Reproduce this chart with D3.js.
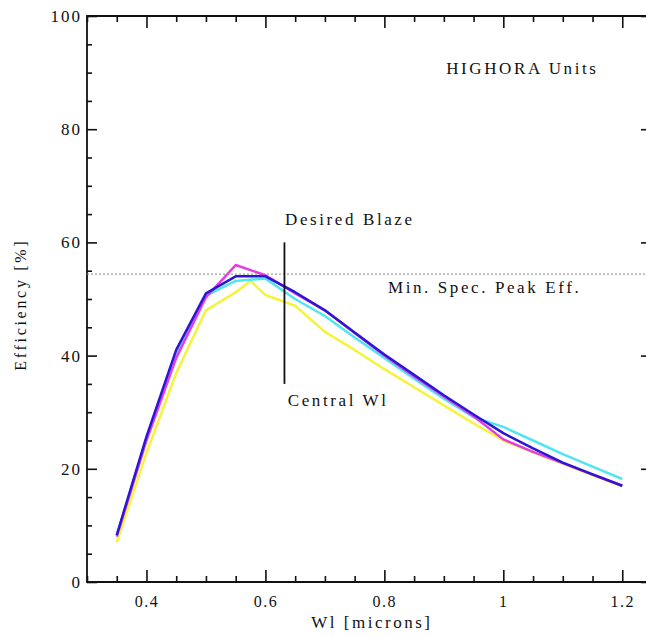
<!DOCTYPE html>
<html>
<head>
<meta charset="utf-8">
<script src="https://cdn.jsdelivr.net/npm/d3@7/dist/d3.min.js"></script>
<style>
  html, body { margin: 0; padding: 0; background: #fff; overflow: hidden; width: 646px; height: 637px; }
  svg { display: block; overflow: hidden; }
  text { font-family: "Liberation Serif", "DejaVu Serif", serif; fill: #111; }
</style>
</head>
<body>
<svg id="chart" width="646" height="637"></svg>
<script>
// ---- data ----
const wavelengths = [0.35, 0.4, 0.45, 0.5, 0.55, 0.6, 0.65, 0.7, 0.75, 0.8, 0.85, 0.9, 0.95, 1.0, 1.05, 1.1, 1.15, 1.2];
const yellowX = [0.35, 0.4, 0.45, 0.5, 0.55, 0.575, 0.6, 0.65, 0.7, 0.75, 0.8, 0.85, 0.9, 0.95, 1.0, 1.05, 1.1, 1.15, 1.2];
const yellowY = [7.0, 22.8, 36.9, 48.0, 51.2, 53.2, 50.7, 48.8, 44.2, 41.0, 37.6, 34.4, 31.2, 28.0, 25.0, 22.9, 20.9, 18.9, 16.9];
const cyanY    = [8.2, 25.4, 40.6, 50.6, 53.2, 53.6, 50.0, 47.0, 43.2, 39.6, 35.9, 32.4, 29.1, 27.4, 25.0, 22.6, 20.4, 18.2];
const magentaY = [8.0, 25.0, 39.6, 50.3, 56.0, 54.2, 51.0, 48.0, 44.0, 40.0, 36.3, 32.8, 29.3, 25.2, 23.0, 21.0, 19.0, 17.0];
const blueY    = [8.3, 25.7, 41.0, 51.0, 54.0, 54.0, 51.2, 48.0, 44.1, 40.2, 36.6, 33.0, 29.6, 26.3, 23.6, 21.1, 19.0, 17.0];
const seriesNames  = ["yellow", "cyan", "magenta", "blue"];
const seriesColors = ["#f4f43a", "#4fe6f2", "#e23ee2", "#2c16d4"];

const xMajorTicks = [0.4, 0.6, 0.8, 1.0, 1.2];
const xTickLabels = ["0.4", "0.6", "0.8", "1", "1.2"];
const xMinorTicks = [0.3, 0.35, 0.45, 0.5, 0.55, 0.65, 0.7, 0.75, 0.85, 0.9, 0.95, 1.05, 1.1, 1.15];
const yMajorTicks = [0, 20, 40, 60, 80, 100];
const yMinorTicks = [5, 10, 15, 25, 30, 35, 45, 50, 55, 65, 70, 75, 85, 90, 95];

const minSpecPeak = 54.4;
const centralWl = 0.632;
const blazeLineRange = [35, 60];

const xTitle = "Wl [microns]";
const yTitle = "Efficiency [%]";
const annotations = [
  { text: "HIGHORA Units", x: 0.904, y: 90.5 },
  { text: "Desired Blaze", x: 0.633, y: 63.8 },
  { text: "Min. Spec. Peak Eff.", x: 0.806, y: 51.8 },
  { text: "Central Wl", x: 0.6375, y: 31.8 }
];

// ---- chart ----
const svg = d3.select("#chart");
const mLeft = 87, mRight = 652, mTop = 16, mBottom = 582;
const x = d3.scaleLinear().domain([0.3, 1.25]).range([mLeft, mRight]);
const y = d3.scaleLinear().domain([0, 100]).range([mBottom, mTop]);

function styleAxis(g) {
  g.selectAll("path.domain").remove();
  g.selectAll(".tick line").attr("stroke", "#111").attr("stroke-width", 1.6);
  g.selectAll(".tick text")
    .style("font-family", "Liberation Serif, serif")
    .attr("fill", "#111");
}

svg.append("g").attr("transform", `translate(0,${mBottom})`)
  .call(d3.axisBottom(x).tickValues(xMajorTicks).tickSizeInner(-12).tickSizeOuter(0)
    .tickPadding(14).tickFormat((d, i) => xTickLabels[i]))
  .call(styleAxis).selectAll("text")
  .style("font-size", "16px").style("letter-spacing", "1.5px");
svg.append("g").attr("transform", `translate(0,${mBottom})`)
  .call(d3.axisBottom(x).tickValues(xMinorTicks).tickSizeInner(-6).tickSizeOuter(0).tickFormat(""))
  .call(styleAxis);
svg.append("g").attr("transform", `translate(0,${mTop})`)
  .call(d3.axisTop(x).tickValues(xMajorTicks).tickSizeInner(-12).tickSizeOuter(0).tickFormat(""))
  .call(styleAxis);
svg.append("g").attr("transform", `translate(0,${mTop})`)
  .call(d3.axisTop(x).tickValues(xMinorTicks).tickSizeInner(-6).tickSizeOuter(0).tickFormat(""))
  .call(styleAxis);

svg.append("g").attr("transform", `translate(${mLeft},0)`)
  .call(d3.axisLeft(y).tickValues(yMajorTicks).tickSizeInner(-10).tickSizeOuter(0).tickPadding(5)
    .tickFormat(d3.format("d")))
  .call(styleAxis).selectAll("text")
  .style("font-size", "17px").style("letter-spacing", "2px");
svg.append("g").attr("transform", `translate(${mLeft},0)`)
  .call(d3.axisLeft(y).tickValues(yMinorTicks).tickSizeInner(-5).tickSizeOuter(0).tickFormat(""))
  .call(styleAxis);
svg.append("g").attr("transform", `translate(${mRight},0)`)
  .call(d3.axisRight(y).tickValues(yMajorTicks).tickSizeInner(-11).tickSizeOuter(0).tickFormat(""))
  .call(styleAxis);
svg.append("g").attr("transform", `translate(${mRight},0)`)
  .call(d3.axisRight(y).tickValues(yMinorTicks).tickSizeInner(-5).tickSizeOuter(0).tickFormat(""))
  .call(styleAxis);

// frame (left, top, bottom edges; right edge lies just outside the picture)
const frame = d3.path();
frame.moveTo(x(1.25), y(100));
frame.lineTo(x(0.3), y(100));
frame.lineTo(x(0.3), y(0));
frame.lineTo(x(1.25), y(0));
svg.append("path")
  .attr("d", frame.toString())
  .attr("fill", "none").attr("stroke", "#111").attr("stroke-width", 1.8);

// min spec dotted line
svg.append("line")
  .attr("x1", x(0.3)).attr("x2", x(1.25))
  .attr("y1", y(minSpecPeak)).attr("y2", y(minSpecPeak))
  .attr("stroke", "#888").attr("stroke-width", 1).attr("stroke-dasharray", "2,2");

// series
const line = d3.line().x(d => x(d[0])).y(d => y(d[1]));
const seriesData = [
  yellowX.map((v, i) => [v, yellowY[i]]),
  wavelengths.map((v, i) => [v, cyanY[i]]),
  wavelengths.map((v, i) => [v, magentaY[i]]),
  wavelengths.map((v, i) => [v, blueY[i]])
];
seriesData.forEach((pts, i) => {
  svg.append("path").datum(pts)
    .attr("class", "series-" + seriesNames[i])
    .attr("d", line)
    .attr("fill", "none")
    .attr("stroke", seriesColors[i])
    .attr("stroke-width", 2.5)
    .attr("stroke-linejoin", "round");
});

// central wavelength line
svg.append("line")
  .attr("x1", x(centralWl)).attr("x2", x(centralWl))
  .attr("y1", y(blazeLineRange[0])).attr("y2", y(blazeLineRange[1]))
  .attr("stroke", "#111").attr("stroke-width", 1.8);

// annotations
annotations.forEach(a => {
  svg.append("text")
    .attr("x", x(a.x))
    .attr("y", y(a.y))
    .attr("dominant-baseline", "middle")
    .attr("text-anchor", "start")
    .style("font-size", "17px")
    .style("letter-spacing", "2.6px")
    .text(a.text);
});

// titles
svg.append("text")
  .attr("x", x(0.779)).attr("y", 624)
  .attr("text-anchor", "middle").attr("dominant-baseline", "middle")
  .style("font-size", "17px").style("letter-spacing", "2.5px")
  .text(xTitle);
svg.append("text")
  .attr("transform", `translate(22,${y(49)}) rotate(-90)`)
  .attr("text-anchor", "middle").attr("dominant-baseline", "middle")
  .style("font-size", "16px").style("letter-spacing", "2.7px")
  .text(yTitle);
</script>
</body>
</html>
